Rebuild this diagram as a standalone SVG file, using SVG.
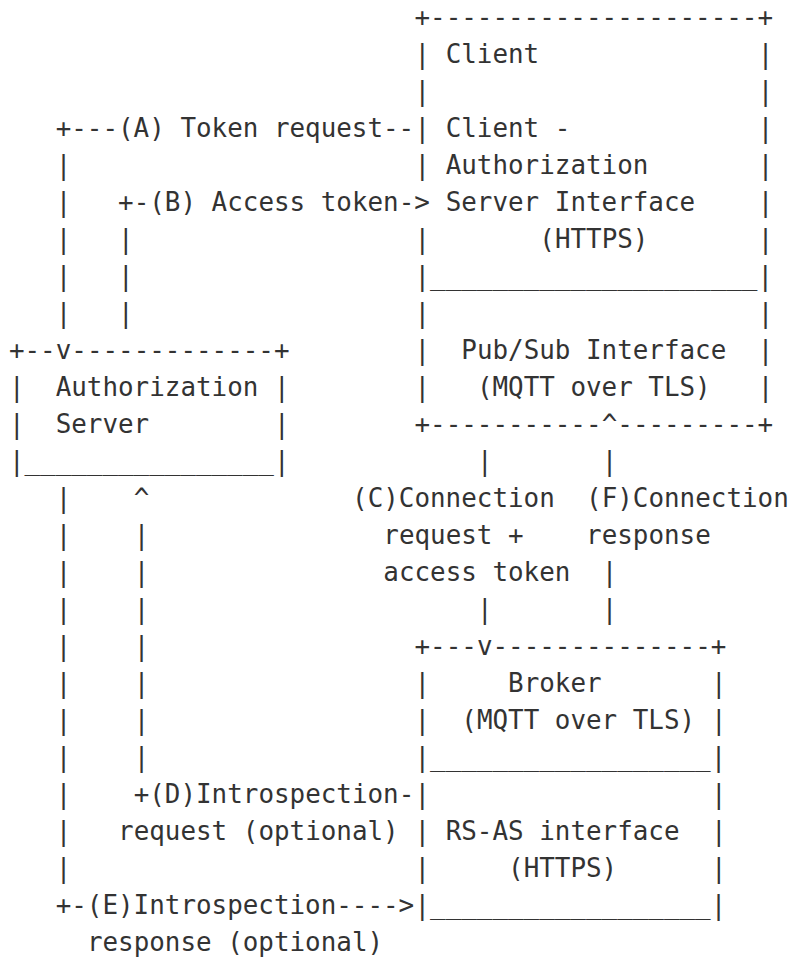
<svg xmlns="http://www.w3.org/2000/svg" width="791" height="957" viewBox="0 0 791 957">
<style>
text{font-family:"DejaVu Sans Mono","Liberation Mono",monospace;font-size:25.9px;fill:#333;white-space:pre}
</style>
<rect width="791" height="957" fill="#fff"/>
<g id="client">
<text x="414.5" y="26.3">+---------------------+</text>
<text x="414.5" y="63.3">|</text><text x="445.7" y="63.3">Client</text><text x="757.7" y="63.3">|</text>
<text x="414.5" y="100.3">|</text><text x="757.7" y="100.3">|</text>
<text x="414.5" y="137.3">|</text><text x="445.7" y="137.3">Client -</text><text x="757.7" y="137.3">|</text>
<text x="414.5" y="174.3">|</text><text x="445.7" y="174.3">Authorization</text><text x="757.7" y="174.3">|</text>
<text x="445.7" y="211.3">Server Interface</text><text x="757.7" y="211.3">|</text>
<text x="414.5" y="248.3">|</text><text x="539.3" y="248.3">(HTTPS)</text><text x="757.7" y="248.3">|</text>
<text x="414.5" y="285.3">|_____________________|</text>
<text x="414.5" y="322.3">|</text><text x="757.7" y="322.3">|</text>
<text x="414.5" y="359.3">|</text><text x="461.3" y="359.3">Pub/Sub Interface</text><text x="757.7" y="359.3">|</text>
<text x="414.5" y="396.3">|</text><text x="476.9" y="396.3">(MQTT over TLS)</text><text x="757.7" y="396.3">|</text>
<text x="414.5" y="433.3">+-----------</text><text x="617.3" y="433.3">---------+</text>
</g>
<g id="authorization-server">
<text x="8.9" y="359.3">+--</text><text x="71.3" y="359.3">-------------+</text>
<text x="8.9" y="396.3">|</text><text x="55.7" y="396.3">Authorization</text><text x="274.1" y="396.3">|</text>
<text x="8.9" y="433.3">|</text><text x="55.7" y="433.3">Server</text><text x="274.1" y="433.3">|</text>
<text x="8.9" y="470.3">|________________|</text>
</g>
<g id="broker">
<text x="414.5" y="655.3">+---</text><text x="492.5" y="655.3">--------------+</text>
<text x="414.5" y="692.3">|</text><text x="508.1" y="692.3">Broker</text><text x="710.9" y="692.3">|</text>
<text x="414.5" y="729.3">|</text><text x="461.3" y="729.3">(MQTT over TLS)</text><text x="710.9" y="729.3">|</text>
<text x="414.5" y="766.3">|__________________|</text>
<text x="414.5" y="803.3">|</text><text x="710.9" y="803.3">|</text>
<text x="414.5" y="840.3">|</text><text x="445.7" y="840.3">RS-AS interface</text><text x="710.9" y="840.3">|</text>
<text x="414.5" y="877.3">|</text><text x="508.1" y="877.3">(HTTPS)</text><text x="710.9" y="877.3">|</text>
<text x="414.5" y="914.3">|__________________|</text>
</g>
<g id="connectors">
<text x="55.7" y="137.3">+---(A) Token request--</text>
<text x="55.7" y="174.3">|</text>
<text x="55.7" y="211.3">|</text><text x="118.1" y="211.3">+-(B) Access token-&gt;</text>
<text x="55.7" y="248.3">|</text><text x="118.1" y="248.3">|</text>
<text x="55.7" y="285.3">|</text><text x="118.1" y="285.3">|</text>
<text x="55.7" y="322.3">|</text><text x="118.1" y="322.3">|</text>
<text x="55.7" y="359.3">v</text>
<text x="601.7" y="433.3">^</text>
<text x="476.9" y="470.3">|</text><text x="601.7" y="470.3">|</text>
<text x="55.7" y="507.3">|</text><text x="133.7" y="507.3">^</text><text x="352.1" y="507.3">(C)Connection</text><text x="586.1" y="507.3">(F)Connection</text>
<text x="55.7" y="544.3">|</text><text x="133.7" y="544.3">|</text><text x="383.3" y="544.3">request +</text><text x="586.1" y="544.3">response</text>
<text x="55.7" y="581.3">|</text><text x="133.7" y="581.3">|</text><text x="383.3" y="581.3">access token</text><text x="601.7" y="581.3">|</text>
<text x="55.7" y="618.3">|</text><text x="133.7" y="618.3">|</text><text x="476.9" y="618.3">|</text><text x="601.7" y="618.3">|</text>
<text x="55.7" y="655.3">|</text><text x="133.7" y="655.3">|</text><text x="476.9" y="655.3">v</text>
<text x="55.7" y="692.3">|</text><text x="133.7" y="692.3">|</text>
<text x="55.7" y="729.3">|</text><text x="133.7" y="729.3">|</text>
<text x="55.7" y="766.3">|</text><text x="133.7" y="766.3">|</text>
<text x="55.7" y="803.3">|</text><text x="133.7" y="803.3">+(D)Introspection-</text>
<text x="55.7" y="840.3">|</text><text x="118.1" y="840.3">request (optional)</text>
<text x="55.7" y="877.3">|</text>
<text x="55.7" y="914.3">+-(E)Introspection----&gt;</text>
<text x="86.9" y="951.3">response (optional)</text>
</g>
</svg>
